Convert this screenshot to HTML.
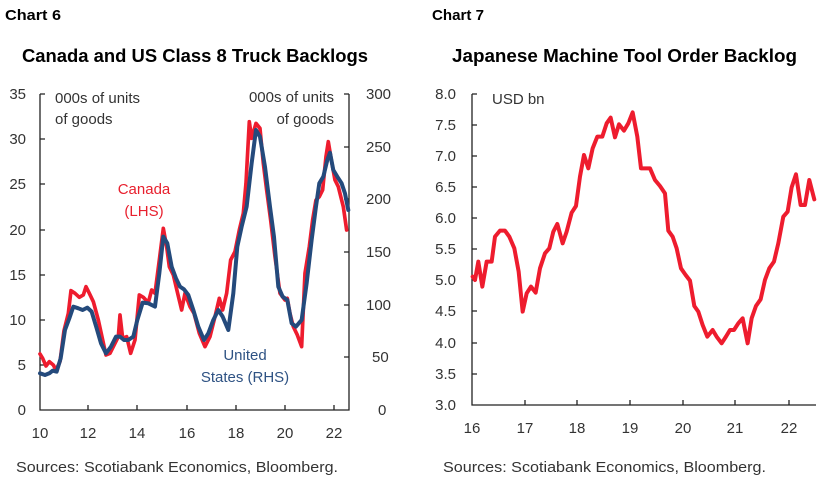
<!DOCTYPE html>
<html><head><style>
html,body{margin:0;padding:0;background:#fff;}
svg{display:block;font-family:"Liberation Sans",sans-serif;}
</style></head><body>
<svg width="828" height="483" viewBox="0 0 828 483" xmlns="http://www.w3.org/2000/svg">
<g fill="#000" font-weight="bold">
<text x="5" y="20" font-size="15" textLength="56" lengthAdjust="spacingAndGlyphs">Chart 6</text>
<text x="432" y="20" font-size="15" textLength="52" lengthAdjust="spacingAndGlyphs">Chart 7</text>
<text x="22" y="62" font-size="18" textLength="346" lengthAdjust="spacingAndGlyphs">Canada and US Class 8 Truck Backlogs</text>
<text x="452" y="62" font-size="18" textLength="345" lengthAdjust="spacingAndGlyphs">Japanese Machine Tool Order Backlog</text>
</g>
<g fill="#333" font-size="15">
<text x="16" y="472" textLength="322" lengthAdjust="spacingAndGlyphs">Sources: Scotiabank Economics, Bloomberg.</text>
<text x="443" y="472" textLength="323" lengthAdjust="spacingAndGlyphs">Sources: Scotiabank Economics, Bloomberg.</text>
</g>
<!-- Chart 6 axes -->
<g stroke="#222" stroke-width="1.3" fill="none">
<path d="M40,94 V410 H349 V94"/>
<path d="M40,94h5M40,139h5M40,184h5M40,230h5M40,275h5M40,320h5M40,365h5"/>
<path d="M349,94h-5M349,147h-5M349,199h-5M349,252h-5M349,305h-5M349,357h-5"/>
<path d="M88,410v-5M137,410v-5M187,410v-5M236,410v-5M285,410v-5M334,410v-5"/>
</g>
<g fill="#333" font-size="15">
<g text-anchor="end">
<text x="26" y="99">35</text><text x="26" y="144">30</text><text x="26" y="189">25</text><text x="26" y="235">20</text><text x="26" y="280">15</text><text x="26" y="325">10</text><text x="26" y="370">5</text><text x="26" y="415">0</text>
</g>
<text x="366" y="99">300</text><text x="366" y="152">250</text><text x="366" y="204">200</text><text x="366" y="257">150</text><text x="366" y="310">100</text><text x="372" y="362">50</text><text x="378" y="415">0</text>
<g text-anchor="middle">
<text x="40" y="438">10</text><text x="88" y="438">12</text><text x="137" y="438">14</text><text x="187" y="438">16</text><text x="236" y="438">18</text><text x="285" y="438">20</text><text x="334" y="438">22</text>
</g>
<text x="55" y="103">000s of units</text><text x="55" y="124">of goods</text>
<text x="334" y="102" text-anchor="end">000s of units</text><text x="334" y="124" text-anchor="end">of goods</text>
</g>
<text x="144" y="194" fill="#e8202e" font-size="15" text-anchor="middle">Canada</text>
<text x="144" y="216" fill="#e8202e" font-size="15" text-anchor="middle">(LHS)</text>
<text x="245" y="360" fill="#2e5283" font-size="15" text-anchor="middle">United</text>
<text x="245" y="382" fill="#2e5283" font-size="15" text-anchor="middle">States (RHS)</text>
<g transform="translate(0,80) scale(0.3333)" fill="none" stroke-linejoin="round" stroke-linecap="round">
<polyline stroke="#ee1c2e" stroke-width="11" points="120,822 128,835 138,858 148,845 160,855 168,870 180,845 192,752 205,700 213,632 225,640 238,652 250,645 258,620 268,640 280,665 295,720 318,825 330,820 345,790 355,770 360,705 368,775 380,770 392,820 405,780 418,645 430,652 445,668 455,630 465,640 478,540 490,445 500,500 508,560 520,585 533,640 545,690 555,640 570,680 582,700 598,760 615,800 630,770 645,710 658,655 668,690 680,640 692,540 705,515 718,450 730,400 738,310 748,125 755,175 768,130 780,145 790,250 800,330 812,420 825,530 840,640 855,660 862,655 870,700 880,740 892,765 905,800 915,580 928,500 938,420 948,360 958,350 968,330 978,230 985,185 995,245 1005,300 1015,320 1030,380 1040,450"/>
<polyline stroke="#244a7c" stroke-width="12" points="120,880 135,885 148,880 158,872 170,875 182,835 195,750 208,715 220,680 235,685 248,690 262,683 275,695 290,745 303,790 318,820 333,800 348,770 360,770 372,780 385,780 400,770 412,720 428,668 445,670 465,680 478,580 490,470 502,490 515,560 528,595 540,620 552,628 565,645 580,690 595,740 612,780 625,760 640,720 655,690 668,710 685,750 700,640 712,500 725,440 740,380 755,250 768,150 780,170 795,260 810,380 822,470 835,620 848,650 862,660 875,730 888,740 905,720 920,610 935,480 948,380 958,310 970,290 982,240 990,218 1000,270 1012,290 1025,310 1035,340 1045,390"/>
</g>
<!-- Chart 7 axes -->
<g stroke="#222" stroke-width="1.3" fill="none">
<path d="M472,94 V405 H816"/>
<path d="M472,94h5M472,125h5M472,156h5M472,187h5M472,218h5M472,249h5M472,280h5M472,311h5M472,343h5M472,374h5"/>
<path d="M525,405v-5M577,405v-5M630,405v-5M683,405v-5M735,405v-5M789,405v-5"/>
</g>
<g fill="#333" font-size="15">
<g text-anchor="end">
<text x="456" y="99">8.0</text><text x="456" y="130">7.5</text><text x="456" y="161">7.0</text><text x="456" y="192">6.5</text><text x="456" y="223">6.0</text><text x="456" y="254">5.5</text><text x="456" y="285">5.0</text><text x="456" y="316">4.5</text><text x="456" y="348">4.0</text><text x="456" y="379">3.5</text><text x="456" y="410">3.0</text>
</g>
<g text-anchor="middle">
<text x="472" y="433">16</text><text x="525" y="433">17</text><text x="577" y="433">18</text><text x="630" y="433">19</text><text x="683" y="433">20</text><text x="735" y="433">21</text><text x="789" y="433">22</text>
</g>
<text x="492" y="104">USD bn</text>
</g>
<g transform="translate(420,80) scale(0.3333)" fill="none" stroke-linejoin="round" stroke-linecap="round">
<polyline stroke="#ee1c2e" stroke-width="12" points="158,590 165,600 175,545 187,620 200,545 215,545 225,470 240,452 255,452 268,470 283,505 296,575 308,695 320,640 333,620 347,638 360,565 375,520 388,505 400,455 412,432 428,490 440,455 455,398 468,378 480,290 492,225 505,265 518,205 532,170 547,170 560,130 572,113 585,172 597,133 612,152 625,130 638,97 652,170 663,265 690,265 705,300 720,318 735,340 745,452 758,470 770,505 783,565 797,585 810,602 823,678 835,695 848,735 862,770 878,750 890,770 905,790 918,770 930,750 942,750 955,730 968,715 983,790 995,715 1008,678 1022,658 1035,600 1048,565 1062,545 1075,490 1090,410 1103,395 1115,322 1128,283 1142,375 1155,375 1168,300 1183,358"/>
</g>
</svg>
</body></html>
